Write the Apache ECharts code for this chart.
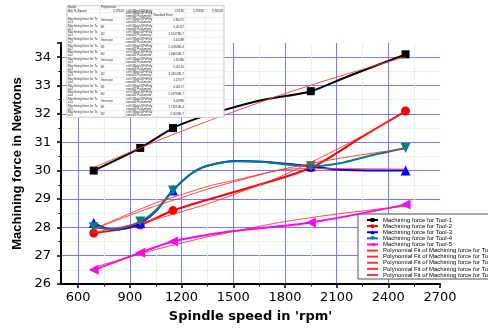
<!DOCTYPE html>
<html><head><meta charset="utf-8">
<script src="https://cdn.jsdelivr.net/npm/echarts@6/dist/echarts.min.js"></script>
<style>html,body{margin:0;padding:0;background:#fff}#c{width:488px;height:329px}</style>
</head><body><div id="c"></div>
<script>
// ---- data ----
// measured points (markers)
const speeds = [690, 960, 1150, 1950, 2500];
const tool1 = [30.0, 30.8, 31.5, 32.8, 34.1];
const tool2 = [27.8, 28.08, 28.59, 30.1, 32.1];
const tool3 = [28.15, 28.15, 29.3, 30.15, 30.0];
const tool4 = [28.0, 28.2, 29.3, 30.15, 30.8];
const tool5 = [26.5, 27.1, 27.5, 28.17, 28.8];
// connecting spline of each tool
const curve1 = [[690, 30.0], [960, 30.8], [1150, 31.5], [1290, 31.84], [1460, 32.16], [1670, 32.49], [1950, 32.8], [2160, 33.31], [2500, 34.1]];
const curve2 = [[690, 27.8], [820, 27.9], [960, 28.08], [1150, 28.59], [1480, 29.2], [1950, 30.1], [2250, 31.2], [2500, 32.1]];
const curve3 = [[690, 28.15], [800, 27.92], [960, 28.15], [1055, 28.6], [1150, 29.3], [1250, 29.86], [1345, 30.16], [1520, 30.34], [1675, 30.31], [1950, 30.15], [2120, 30.03], [2500, 30.0]];
const curve4 = [[690, 28.0], [800, 27.93], [960, 28.2], [1055, 28.63], [1150, 29.3], [1250, 29.86], [1345, 30.16], [1520, 30.33], [1675, 30.3], [1950, 30.15], [2120, 30.26], [2310, 30.55], [2500, 30.8]];
const curve5 = [[690, 26.5], [960, 27.1], [1150, 27.5], [1480, 27.85], [1950, 28.17], [2500, 28.8]];
// polynomial fit curves
const fitSpeeds = [690, 960, 1150, 1500, 1950, 2500];
const fit1 = [30.11, 30.80, 31.27, 32.07, 33.01, 34.01];
const fit2 = [27.82, 28.16, 28.46, 29.15, 30.29, 32.07];
const fit3 = [27.93, 28.64, 29.06, 29.65, 30.07, 30.05];
const fit4 = [27.93, 28.56, 28.95, 29.60, 30.25, 30.77];
const fit5 = [26.59, 27.06, 27.37, 27.85, 28.34, 28.74];
const xMajorTicks = [600, 900, 1200, 1500, 1800, 2100, 2400, 2700];
const xMinorTicks = [750, 1050, 1350, 1650, 1950, 2250, 2550];
const toolNames = ['Machining force for Tool-1', 'Machining force for Tool-2', 'Machining force for Tool-3', 'Machining force for Tool-4', 'Machining force for Tool-5'];
const fitNames = toolNames.map(n => 'Polynomial Fit of ' + n);
// fit-report table text
const tableTop = [
  ['Model', 'Polynomial', '', '', '', ''],
  ['Adj. R-Square', '0.97626', 'cell://[Book1]FitPoly', '0.9146', '0.91682', '0.96003'],
  ['', '', 'cell://[Book1]FitPoly\nnomial1!Parameter', 'Standard Error', '', '']
];
const tableParams = ['Intercept', 'B1', 'B2'];
const tableErrors = [
  ['2.86071', '0.00117', '3.61478E-7'],
  ['3.41288', '5.00346E-4', '1.86626E-7'],
  ['1.32486', '0.00150', '3.44547E-7'],
  ['1.17077', '0.00172', '5.03798E-7'],
  ['3.02886', '7.73219E-4', '2.5639E-7']
];

// ---- chart ----
const colors = ['#000000', '#ff0000', '#0000ff', '#008080', '#ff00ff'];
const symbols = ['rect', 'circle', 'triangle', 'triangle', 'triangle'];
const rots = [0, 0, 0, 180, 90];
const sizes = [8, 9, 10, 10, 10];
const tools = [tool1, tool2, tool3, tool4, tool5];
const curves = [curve1, curve2, curve3, curve4, curve5];
const fits = [fit1, fit2, fit3, fit4, fit5];

const series = [];
tools.forEach((t, i) => {
  const pts = curves[i].map(p => p.slice());
  speeds.forEach((s, k) => { pts.forEach(p => { if (p[0] === s) p[1] = t[k]; }); });
  series.push({
    name: toolNames[i], type: 'line', xAxisIndex: 0, yAxisIndex: 0,
    data: pts,
    smooth: 0.3, showAllSymbol: true,
    symbol: symbols[i], symbolRotate: rots[i],
    symbolSize: (v) => speeds.indexOf(v[0]) >= 0 ? sizes[i] : 0,
    lineStyle: {color: colors[i], width: 2}, itemStyle: {color: colors[i]},
    z: 3 + i
  });
});
fits.forEach((f, i) => {
  series.push({
    name: fitNames[i], type: 'line', xAxisIndex: 0, yAxisIndex: 0,
    data: fitSpeeds.map((s, k) => [s, f[k]]),
    smooth: true, symbol: 'circle', symbolSize: 0, showSymbol: false,
    lineStyle: {color: '#ff3030', width: 0.9}, itemStyle: {color: '#ff3030', opacity: 0},
    z: 10
  });
});

// table graphic
const colX = [67, 100, 125, 152, 185, 205, 224];
const rowY = [5.7, 9.2, 12.8, 17.3];
for (let k = 1; k <= 15; k++) rowY.push(17.3 + k * 6.67);
const tableRows = tableTop.slice();
tableErrors.forEach((errs, ti) => {
  tableParams.forEach((p, pi) => {
    tableRows.push(['Machining force for To\nol-' + (ti + 1), p, 'cell://[Book1]FitPoly\nnomial1!Parameter', errs[pi], '', '']);
  });
});
const gEls = [{type: 'rect', shape: {x: colX[0], y: rowY[0], width: colX[6] - colX[0], height: rowY[rowY.length - 1] - rowY[0]},
  style: {fill: '#fff', stroke: '#bbbbbb', lineWidth: 0.8}, z: 100}];
rowY.forEach(y => gEls.push({type: 'line', shape: {x1: colX[0], y1: y, x2: colX[6], y2: y}, style: {stroke: '#dddddd', lineWidth: 0.5}, z: 101}));
colX.forEach(x => gEls.push({type: 'line', shape: {x1: x, y1: rowY[0], x2: x, y2: rowY[rowY.length - 1]}, style: {stroke: '#dddddd', lineWidth: 0.5}, z: 101}));
tableRows.forEach((row, r) => {
  const y0 = rowY[r], y1 = rowY[r + 1];
  row.forEach((txt, c) => {
    if (!txt) return;
    const right = /^[0-9]/.test(txt);
    gEls.push({type: 'text', z: 102,
      style: {text: txt, x: right ? colX[c + 1] - 1 : colX[c] + 1, y: (y0 + y1) / 2,
        align: right ? 'right' : 'left', verticalAlign: 'middle',
        font: '3px "Liberation Sans"', lineHeight: 3, fill: '#333'}});
  });
});

const legendData = toolNames.map(n => ({name: n})).concat(
  fitNames.map(n => ({name: n, itemStyle: {opacity: 0}})));

const chart = echarts.init(document.getElementById('c'), null, {renderer: 'canvas'});
chart.setOption({
  animation: false,
  backgroundColor: '#fff',
  grid: [
    {left: 61, right: 48, top: 43, bottom: 45},
    {left: 61, right: 48, top: 43, bottom: 45}
  ],
  xAxis: [
    {type: 'value', gridIndex: 0, min: 500, max: 2700,
     name: "Spindle speed in 'rpm'", nameLocation: 'middle', nameGap: 26,
     nameTextStyle: {fontFamily: 'DejaVu Sans', fontWeight: 'bold', fontSize: 13, color: '#000'},
     axisLine: {lineStyle: {color: '#000', width: 2}},
     axisTick: {customValues: xMajorTicks, length: 4, lineStyle: {color: '#000', width: 1.5}},
     axisLabel: {customValues: xMajorTicks, formatter: v => String(v), fontFamily: 'DejaVu Sans', fontSize: 13, color: '#000', margin: 7},
     splitLine: {show: true, showMaxLine: false, lineStyle: {color: '#7777ff', width: 1}}},
    {type: 'value', gridIndex: 1, min: 500, max: 2700,
     axisLine: {show: false},
     axisTick: {customValues: xMinorTicks, length: 2.5, lineStyle: {color: '#000', width: 1}},
     axisLabel: {show: false},
     splitLine: {show: true, lineStyle: {color: '#c6f0c6', width: 1, type: 'dotted'}}}
  ],
  yAxis: [
    {type: 'value', gridIndex: 0, min: 26, max: 34.5, interval: 1,
     name: 'Machining force in Newtons', nameLocation: 'middle', nameGap: 37,
     nameTextStyle: {fontFamily: 'Liberation Sans', fontWeight: 'bold', fontSize: 13, color: '#000'},
     axisLine: {lineStyle: {color: '#000', width: 2}},
     axisTick: {length: 4, lineStyle: {color: '#000', width: 1.5}},
     minorTick: {show: true, splitNumber: 2, length: 2.5, lineStyle: {color: '#000', width: 1}},
     axisLabel: {fontFamily: 'DejaVu Sans', fontSize: 13, color: '#000', margin: 10, showMaxLabel: false},
     splitLine: {show: true, showMinLine: false, showMaxLine: false, lineStyle: {color: '#7777ff', width: 1}},
     minorSplitLine: {show: true, lineStyle: {color: '#c6f0c6', width: 1, type: 'dotted'}}},
    {type: 'value', gridIndex: 1, min: 26, max: 34.5, show: false}
  ],
  legend: {
    orient: 'vertical', left: 358, top: 214,
    itemWidth: 11, itemHeight: 5, itemGap: 0,
    padding: [3, 4, 1, 8],
    backgroundColor: '#fff', borderColor: '#555', borderWidth: 1,
    textStyle: {fontFamily: 'Liberation Sans', fontSize: 6, lineHeight: 6.1, color: '#000'},
    data: legendData
  },
  graphic: {elements: gEls},
  series: series
});
</script></body></html>
